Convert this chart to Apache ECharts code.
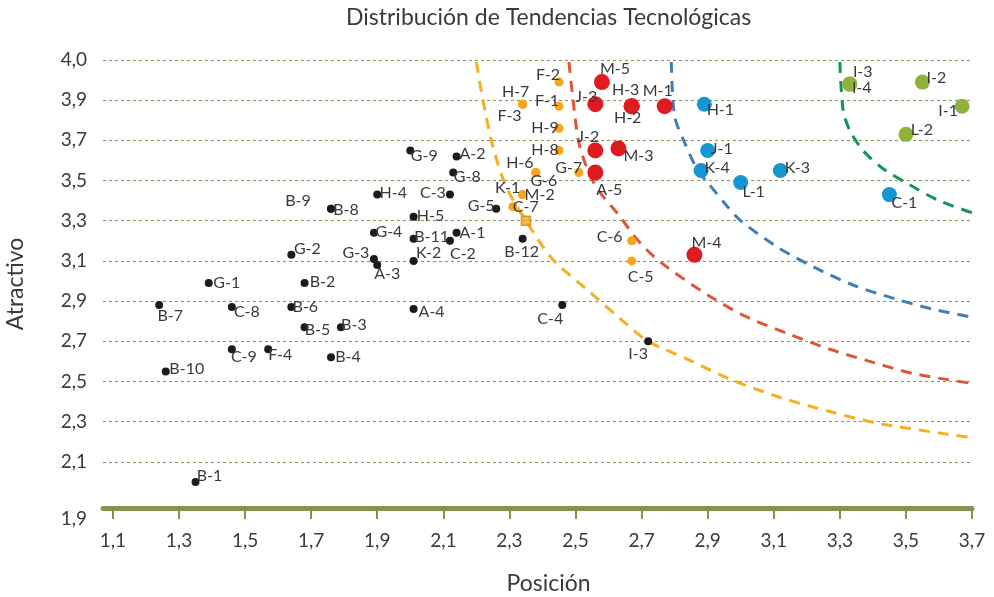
<!DOCTYPE html>
<html>
<head>
<meta charset="utf-8">
<title>Distribución de Tendencias Tecnológicas</title>
<script src="https://cdn.jsdelivr.net/npm/echarts@6/dist/echarts.min.js"></script>
<style>
  html, body { margin: 0; padding: 0; background: #fff; }
  #chart { width: 994px; height: 597px; }
</style>
</head>
<body>
<div id="chart"></div>
<script>
// ejes
const xTicks = [1.1, 1.3, 1.5, 1.7, 1.9, 2.1, 2.3, 2.5, 2.7, 2.9, 3.1, 3.3, 3.5, 3.7];
const yTickValues = [1.87, 2.1, 2.3, 2.5, 2.7, 2.9, 3.1, 3.3, 3.5, 3.7, 3.9, 4.1];
const yTickLabels = ['1,9', '2,1', '2,3', '2,5', '2,7', '2,9', '3,1', '3,3', '3,5', '3,7', '3,9', '4,0'];

// puntos negros
const blackNames = ['G-9', 'A-2', 'G-8', 'C-3', 'H-4', 'B-9', 'B-8', 'G-5', 'H-5', 'G-4', 'B-11', 'A-1', 'C-2', 'G-3', 'A-3', 'K-2', 'B-12',
  'G-2', 'G-1', 'B-2', 'B-7', 'C-8', 'B-6', 'B-5', 'B-3', 'A-4', 'C-4', 'C-9', 'F-4', 'B-4', 'B-10', 'B-1', 'I-3'];
const blackX = [2.00, 2.14, 2.13, 2.12, 1.90, 1.76, 1.76, 2.26, 2.01, 1.89, 2.01, 2.14, 2.12, 1.89, 1.90, 2.01, 2.34,
  1.64, 1.39, 1.68, 1.24, 1.46, 1.64, 1.68, 1.79, 2.01, 2.46, 1.46, 1.57, 1.76, 1.26, 1.35, 2.72];
const blackY = [3.65, 3.62, 3.54, 3.43, 3.43, 3.36, 3.36, 3.36, 3.32, 3.24, 3.21, 3.24, 3.20, 3.11, 3.08, 3.10, 3.21,
  3.13, 2.99, 2.99, 2.88, 2.87, 2.87, 2.77, 2.77, 2.86, 2.88, 2.66, 2.66, 2.62, 2.55, 2.00, 2.70];

// puntos naranjas
const orangeNames = ['F-2', 'H-7', 'F-3', 'F-1', 'H-9', 'H-8', 'H-6', 'G-6', 'G-7', 'K-1', 'M-2', 'C-7', 'C-6', 'C-5'];
const orangeX = [2.45, 2.34, 2.34, 2.45, 2.45, 2.45, 2.38, 2.38, 2.51, 2.34, 2.34, 2.31, 2.67, 2.67];
const orangeY = [3.99, 3.88, 3.88, 3.87, 3.76, 3.65, 3.54, 3.54, 3.54, 3.43, 3.43, 3.37, 3.20, 3.10];

// marcador cuadrado
const markerX = [2.35];
const markerY = [3.30];

// puntos rojos
const redNames = ['M-5', 'J-3', 'H-3', 'H-2', 'M-1', 'J-2', 'M-3', 'A-5', 'M-4'];
const redX = [2.58, 2.56, 2.67, 2.67, 2.77, 2.56, 2.63, 2.56, 2.86];
const redY = [3.99, 3.88, 3.87, 3.87, 3.87, 3.65, 3.66, 3.54, 3.13];

// puntos azules
const blueNames = ['H-1', 'J-1', 'K-4', 'K-3', 'L-1', 'C-1'];
const blueX = [2.89, 2.90, 2.88, 3.12, 3.00, 3.45];
const blueY = [3.88, 3.65, 3.55, 3.55, 3.49, 3.43];

// puntos verdes
const greenNames = ['I-3', 'I-4', 'I-2', 'I-1', 'L-2'];
const greenX = [3.33, 3.33, 3.55, 3.67, 3.50];
const greenY = [3.98, 3.98, 3.99, 3.87, 3.73];

// curvas
const orangeCurveX = [2.20, 2.22, 2.25, 2.29, 2.35, 2.43, 2.54, 2.63, 2.72, 2.84, 2.97, 3.12, 3.27, 3.42, 3.70];
const orangeCurveY = [4.09, 3.90, 3.67, 3.47, 3.30, 3.11, 2.95, 2.82, 2.70, 2.61, 2.51, 2.42, 2.35, 2.29, 2.22];
const redCurveX = [2.48, 2.49, 2.51, 2.54, 2.57, 2.63, 2.69, 2.76, 2.91, 3.02, 3.14, 3.27, 3.39, 3.52, 3.70];
const redCurveY = [4.09, 3.94, 3.69, 3.54, 3.45, 3.33, 3.20, 3.09, 2.92, 2.82, 2.74, 2.66, 2.60, 2.54, 2.49];
const blueCurveX = [2.79, 2.80, 2.83, 2.87, 2.90, 2.96, 3.00, 3.11, 3.22, 3.34, 3.47, 3.58, 3.70];
const blueCurveY = [4.09, 3.82, 3.69, 3.55, 3.49, 3.37, 3.30, 3.17, 3.07, 2.98, 2.91, 2.86, 2.82];
const greenCurveX = [3.30, 3.31, 3.33, 3.37, 3.43, 3.51, 3.60, 3.70];
const greenCurveY = [4.09, 3.85, 3.75, 3.65, 3.56, 3.48, 3.40, 3.34];

// desplazamiento de etiquetas (centro del texto respecto al punto, px)
const labelOffset = {
  black: {
    'G-9': [14, 5], 'A-2': [16, -3], 'G-8': [14, 4], 'C-3': [-17, -2], 'H-4': [16, -2], 'B-9': [-33, -8], 'B-8': [15, 1],
    'G-5': [-15, -3], 'H-5': [17, -1], 'G-4': [15, -1], 'B-11': [18, -2], 'A-1': [16, 0], 'C-2': [13, 13], 'G-3': [-18, -6],
    'A-3': [10, 9], 'K-2': [15, -8], 'B-12': [-1, 13], 'G-2': [16, -6], 'G-1': [18, 0], 'B-2': [18, -1], 'B-7': [11, 11],
    'C-8': [15, 5], 'B-6': [14, 0], 'B-5': [13, 3], 'B-3': [13, -2], 'A-4': [18, 3], 'C-4': [-12, 14], 'C-9': [12, 8],
    'F-4': [12, 6], 'B-4': [17, 0], 'B-10': [21, -3], 'B-1': [14, -6], 'I-3': [-10, 13]
  },
  orange: {
    'F-2': [-11, -7], 'H-7': [-7, -12], 'F-3': [-13, 12], 'F-1': [-12, -5], 'H-9': [-14, 0], 'H-8': [-14, -1],
    'H-6': [-16, -10], 'G-6': [8, 8], 'G-7': [-10, -5], 'K-1': [-15, -7], 'M-2': [17, 0], 'C-7': [13, 0],
    'C-6': [-22, -4], 'C-5': [9, 16]
  },
  red: {
    'M-5': [13, -13], 'J-3': [-9, -7], 'H-3': [-6, -16], 'H-2': [-4, 12], 'M-1': [-7, -15], 'J-2': [-7, -14],
    'M-3': [20, 7], 'A-5': [14, 17], 'M-4': [12, -12]
  },
  blue: { 'H-1': [16, 6], 'J-1': [14, -2], 'K-4': [16, -3], 'K-3': [17, -3], 'L-1': [13, 9], 'C-1': [15, 8] },
  green: { 'I-3': [13, -12], 'I-4': [12, 4], 'I-2': [14, -4], 'I-1': [-14, 5], 'L-2': [16, -4] }
};

const FONT = 'Lato, "Open Sans", sans-serif';
const TEXT = '#3a3a3a';

function points(group, names, xs, ys) {
  return names.map((n, i) => ({
    name: n,
    value: [xs[i], ys[i]],
    label: { offset: labelOffset[group][n] }
  }));
}

function pairs(xs, ys) {
  return xs.map((x, i) => [x, ys[i]]);
}

function scatter(group, names, xs, ys, color, size) {
  return {
    type: 'scatter',
    z: 3,
    symbolSize: size,
    itemStyle: { color: color, opacity: 1 },
    label: {
      show: true,
      position: 'inside',
      formatter: '{b}',
      color: TEXT,
      fontFamily: FONT,
      fontSize: 16
    },
    data: points(group, names, xs, ys)
  };
}

function curve(xs, ys, color) {
  return {
    type: 'line',
    z: 2,
    showSymbol: false,
    smooth: 0.3,
    lineStyle: { color: color, width: 3, type: [11, 8] },
    data: pairs(xs, ys)
  };
}

const myChart = echarts.init(document.getElementById('chart'));
myChart.setOption({
  animation: false,
  backgroundColor: '#ffffff',
  title: {
    text: 'Distribución de Tendencias Tecnológicas',
    left: 346,
    top: 6,
    padding: 0,
    textStyle: { color: TEXT, fontFamily: FONT, fontSize: 23, fontWeight: 'normal' }
  },
  grid: { left: 103, right: 22, top: 60, bottom: 89, containLabel: false, outerBoundsMode: 'none' },
  xAxis: {
    type: 'value',
    min: 1.07,
    max: 3.7,
    name: 'Posición',
    nameLocation: 'middle',
    nameGap: 64,
    nameTextStyle: { color: TEXT, fontFamily: FONT, fontSize: 23, padding: [0, 0, 0, 22] },
    axisLine: { show: true, lineStyle: { color: '#849553', width: 5 } },
    axisTick: { show: true, inside: false, length: 11, customValues: xTicks, lineStyle: { color: '#7f914c', width: 2 } },
    axisLabel: {
      show: true,
      customValues: xTicks,
      margin: 23,
      color: TEXT,
      fontFamily: FONT,
      fontSize: 19,
      formatter: v => v.toFixed(1).replace('.', ',')
    },
    splitLine: { show: false }
  },
  yAxis: {
    type: 'value',
    min: 1.87,
    max: 4.1,
    name: 'Atractivo',
    nameLocation: 'middle',
    nameGap: 76,
    nameRotate: 90,
    nameTextStyle: { color: TEXT, fontFamily: FONT, fontSize: 23 },
    axisLine: { show: false },
    axisTick: { show: false, customValues: yTickValues },
    axisLabel: {
      customValues: yTickValues,
      margin: 16,
      color: TEXT,
      fontFamily: FONT,
      fontSize: 19,
      formatter: function (v) {
        const i = yTickValues.findIndex(t => Math.abs(t - v) < 1e-6);
        if (i === 0) return '{low|' + yTickLabels[i] + '}';
        return i >= 0 ? yTickLabels[i] : '';
      },
      rich: { low: { padding: [22, 0, 0, 0], color: TEXT, fontFamily: FONT, fontSize: 19 } }
    },
    splitLine: { show: true, lineStyle: { color: '#8f9c5d', width: 1.2, type: [3, 3] } }
  },
  series: [
    curve(orangeCurveX, orangeCurveY, '#f7ae1f'),
    curve(redCurveX, redCurveY, '#de5638'),
    curve(blueCurveX, blueCurveY, '#3f7fb4'),
    curve(greenCurveX, greenCurveY, '#109457'),
    scatter('black', blackNames, blackX, blackY, '#1c1c1c', 8),
    scatter('orange', orangeNames, orangeX, orangeY, '#f8a51c', 9),
    {
      type: 'scatter',
      z: 3,
      symbol: 'rect',
      symbolSize: 9,
      itemStyle: { color: '#f8a51c', borderColor: '#c98a16', borderWidth: 1.5 },
      data: pairs(markerX, markerY)
    },
    scatter('red', redNames, redX, redY, '#df1a22', 16),
    scatter('blue', blueNames, blueX, blueY, '#1396d3', 15),
    scatter('green', greenNames, greenX, greenY, '#8fb23a', 15)
  ]
});
window.onresize = function () {
  myChart.resize();
};
</script>
</body>
</html>
